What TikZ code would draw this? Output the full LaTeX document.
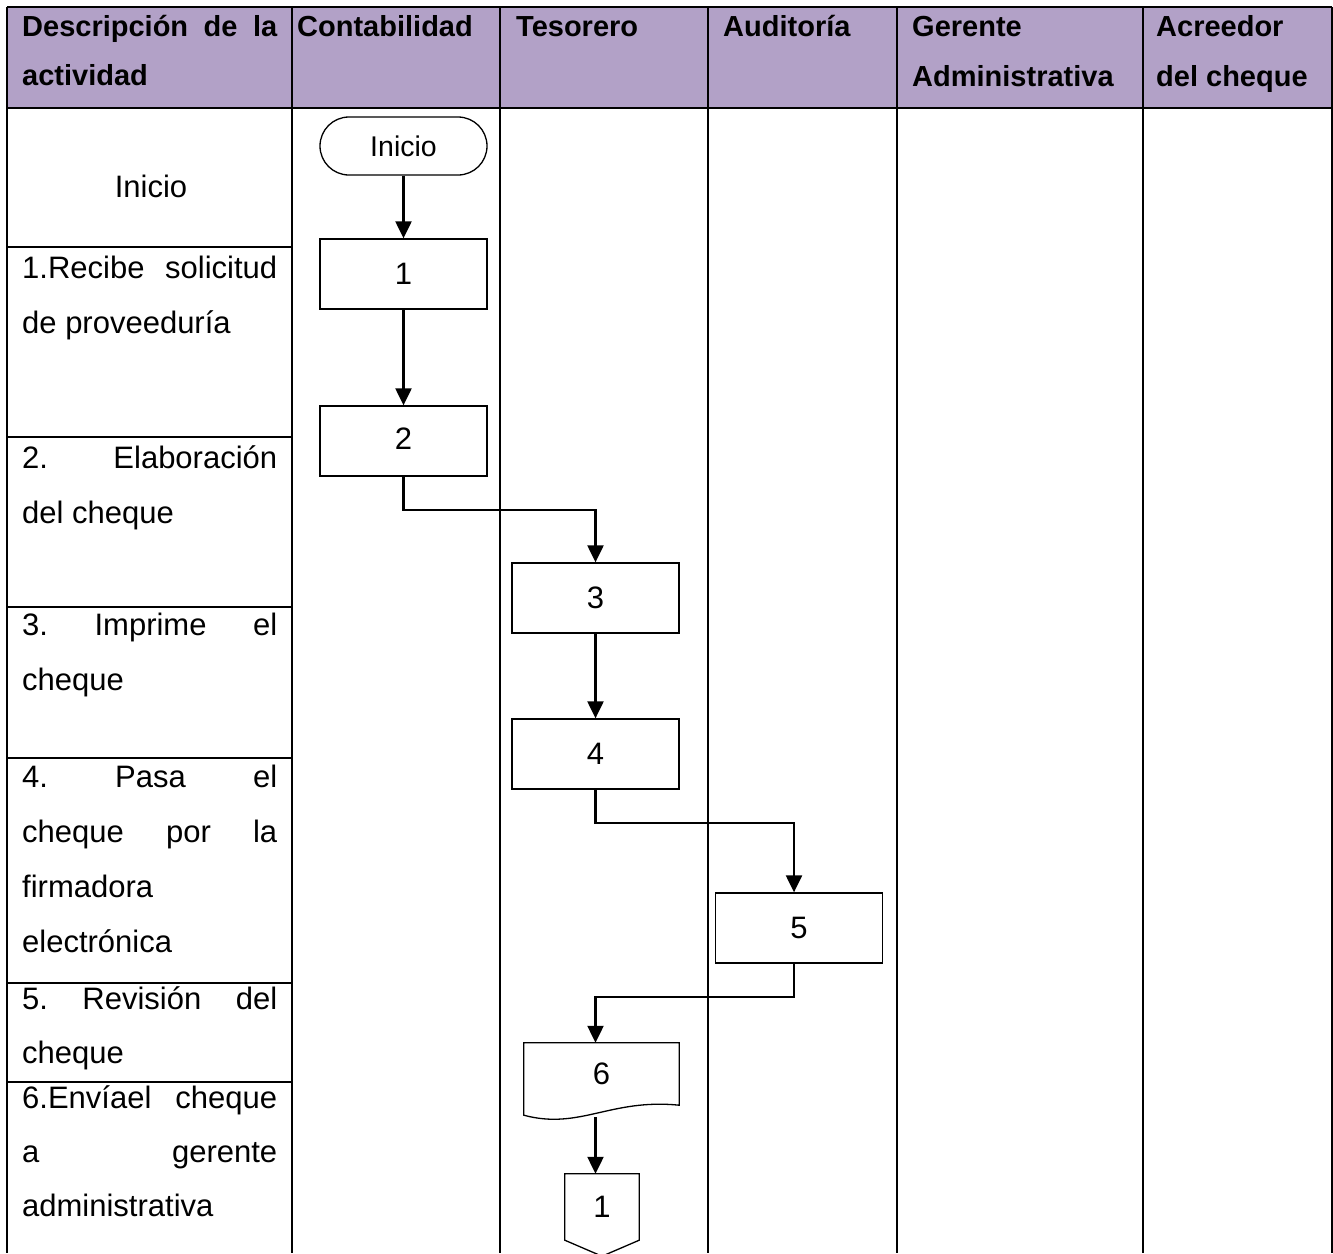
\documentclass[tikz,border=0pt]{standalone}
\usepackage{fontspec}
\setmainfont{Liberation Sans}
\usetikzlibrary{arrows.meta,calc}
\definecolor{hdr}{RGB}{178,161,199}
\newcommand\bodyfont{\fontsize{31pt}{36pt}\selectfont}
\newcommand\chartfont{\fontsize{31pt}{36pt}\selectfont}
\newcommand\termfont{\fontsize{28.5pt}{33pt}\selectfont}
\newcommand\headfont{\fontsize{29pt}{34pt}\selectfont\bfseries}
\newcommand\jline[1]{\hbox to 255pt{#1}}
\begin{document}
\begin{tikzpicture}[x=1pt,y=-1pt,
  grid/.style={line width=2.6pt},
  hd/.style={anchor=base west,inner sep=0pt,font=\headfont},
  tx/.style={anchor=base west,inner sep=0pt,font=\bodyfont},
  boxline/.style={line width=1.3pt},
  proc/.style={draw,line width=1.3pt,minimum width=167pt,minimum height=70pt,inner sep=0pt,font=\chartfont},
  term/.style={draw,line width=1.3pt,rounded corners=29pt,minimum width=167pt,minimum height=58pt,inner sep=0pt,font=\termfont},
  shp/.style={inner sep=0pt,font=\chartfont},
  arr/.style={line width=2.2pt,-{Triangle[width=16pt,length=17pt]}}]
\useasboundingbox (0,0) rectangle (1333,1253);
% header background
\fill[hdr] (7,7) rectangle (1332,108);
% table lines
\draw[grid] (7,7) -- (1332,7);
\draw[grid] (7,108) -- (1332,108);
\foreach \xx in {7,292,500,708,897,1143,1332}{\draw[grid] (\xx,7) -- (\xx,1253);}
\foreach \yy in {247,437,607,758,983,1082}{\draw[grid] (7,\yy) -- (292,\yy);}
% header texts
\node[hd] (h1a) at (22,36) {\jline{Descripción\hfill de\hfill la}};
\node[hd] (h1b) at (22,85) {actividad};
\node[hd] (h2) at (297,36) {Contabilidad};
\node[hd] (h3) at (516,36) {Tesorero};
\node[hd] (h4) at (723,36) {Auditoría};
\node[hd] (h5a) at (912,36) {Gerente};
\node[hd] (h5b) at (912,86) {Administrativa};
\node[hd] (h6a) at (1156,36) {Acreedor};
\node[hd] (h6b) at (1156,86) {del cheque};
% description texts
\node[anchor=base,inner sep=0pt,font=\bodyfont] (d0) at (151,197) {Inicio};
\node[tx] (d1a) at (22,278) {\jline{1.Recibe\hfill solicitud}};
\node[tx] (d1b) at (22,333) {de proveeduría};
\node[tx] (d2a) at (22,468) {\jline{2.\hfill Elaboración}};
\node[tx] (d2b) at (22,523) {del cheque};
\node[tx] (d3a) at (22,635) {\jline{3.\hfill Imprime\hfill el}};
\node[tx] (d3b) at (22,690) {cheque};
\node[tx] (d4a) at (22,787) {\jline{4.\hfill Pasa\hfill el}};
\node[tx] (d4b) at (22,842) {\jline{cheque\hfill por\hfill la}};
\node[tx] (d4c) at (22,897) {firmadora};
\node[tx] (d4d) at (22,952) {electrónica};
\node[tx] (d5a) at (22,1009) {\jline{5.\hfill Revisión\hfill del}};
\node[tx] (d5b) at (22,1063) {cheque};
\node[tx] (d6a) at (22,1108) {\jline{6.Envíael\hfill cheque}};
\node[tx] (d6b) at (22,1162) {\jline{a\hfill gerente}};
\node[tx] (d6c) at (22,1216) {administrativa};
% flowchart
\node[term] (ini) at (403.5,146) {Inicio};
\node[proc] (b1) at (403.5,274) {1};
\node[proc] (b2) at (403.5,441) {\raisebox{4pt}{2}};
\node[proc] (b3) at (595.5,598) {3};
\node[proc] (b4) at (595.5,754) {4};
\node[proc] (b5) at (799,928) {5};
\node[shp,minimum width=155pt,minimum height=62pt] (b6) at (601.5,1074) {6};
\draw[boxline] (b6.north west) -- (b6.north east) -- (b6.south east)
  .. controls +(-69,-7) and +(56,15) .. ([yshift=-10pt]b6.south west) -- cycle;
\node[shp,minimum width=74pt,minimum height=66pt] (c1) at (602,1207) {1};
\draw[boxline] (c1.north west) -- (c1.north east) -- (c1.south east)
  -- ([yshift=-16pt]c1.south) -- (c1.south west) -- cycle;
% connectors
\draw[arr] (ini.south) -- (b1.north);
\draw[arr] (b1.south) -- (b2.north);
\draw[arr] (b2.south) -- ++(0,33) -| (b3.north);
\draw[arr] (b3.south) -- (b4.north);
\draw[arr] (b4.south) -- ++(0,33) -| ([xshift=-5pt]b5.north);
\draw[arr] ([xshift=-5pt]b5.south) -- ++(0,33) -| (b3.south |- b6.north);
\draw[arr] ($(b3.south |- b6.south)+(0,12)$) -- (b3.south |- c1.north);
\end{tikzpicture}
\end{document}
